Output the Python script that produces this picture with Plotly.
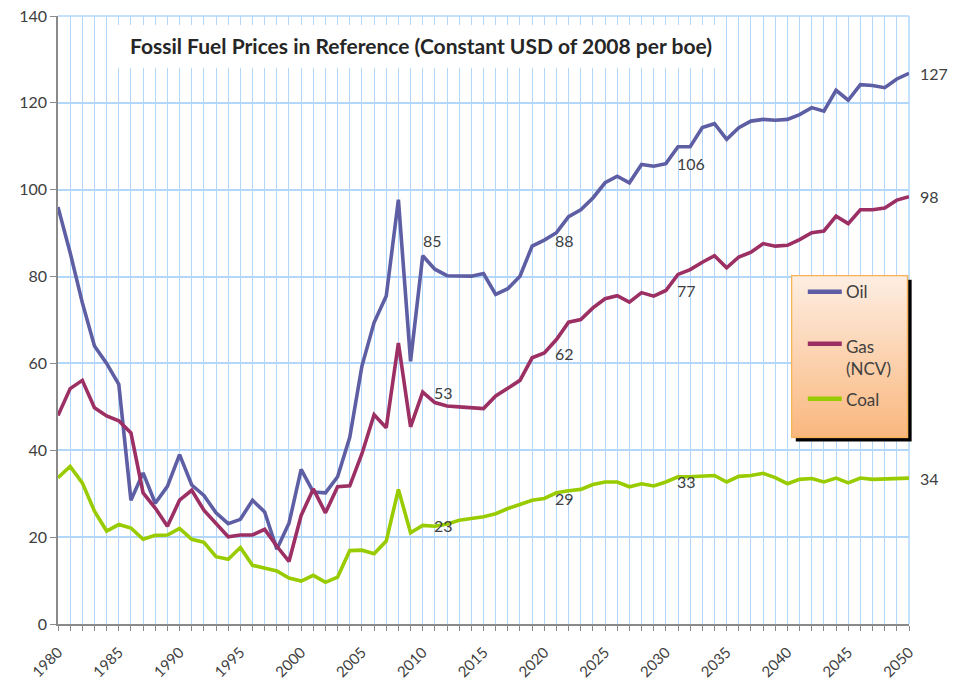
import base64
import plotly.graph_objects as go

years = list(range(1980, 2051))

oil = [96, 85.5, 74, 64, 60, 55.2, 28.5, 34.8, 27.8, 31.7,
       39, 32, 29.6, 25.6, 23.1, 24.1, 28.5, 25.8, 17.2, 23.2,
       35.6, 30.4, 30.2, 33.9, 43, 59.4, 69.4, 75.5, 97.7, 60.5,
       84.8, 81.7, 80.2, 80.1, 80.1, 80.7, 75.9, 77.2, 80.1, 87,
       88.4, 90.1, 93.8, 95.4, 98.1, 101.6, 103.1, 101.6, 105.8, 105.4,
       106, 109.9, 109.9, 114.3, 115.2, 111.6, 114.3, 115.8, 116.2, 116,
       116.2, 117.3, 118.9, 118.1, 122.9, 120.6, 124.2, 124, 123.5, 125.5,
       126.8]

gas = [48, 54.2, 56.1, 49.8, 47.9, 46.8, 44, 30.2, 26.7, 22.5,
       28.5, 30.8, 26.2, 23.1, 20.1, 20.5, 20.5, 21.8, 17.9, 14.4,
       25, 31.1, 25.6, 31.6, 31.8, 39.2, 48.2, 45.2, 64.7, 45.4,
       53.4, 51, 50.2, 50, 49.7, 49.6, 52.5, 54.2, 56.1, 61.3,
       62.4, 65.5, 69.5, 70.1, 72.8, 74.9, 75.6, 74.1, 76.3, 75.5,
       76.8, 80.5, 81.6, 83.3, 84.8, 82, 84.5, 85.6, 87.6, 87,
       87.2, 88.5, 90.1, 90.5, 93.9, 92.2, 95.4, 95.4, 95.8, 97.6,
       98.4]

coal = [33.7, 36.3, 32.5, 26, 21.4, 22.9, 22.1, 19.5, 20.4, 20.5,
        22, 19.5, 18.8, 15.5, 14.9, 17.6, 13.5, 12.9, 12.2, 10.6,
        9.9, 11.2, 9.6, 10.8, 16.9, 17, 16.2, 19.1, 31, 21,
        22.7, 22.5, 23, 23.9, 24.3, 24.7, 25.4, 26.6, 27.5, 28.5,
        28.9, 30.2, 30.7, 31, 32.1, 32.7, 32.7, 31.6, 32.3, 31.8,
        32.7, 33.9, 33.9, 34, 34.2, 32.7, 34, 34.2, 34.7, 33.7,
        32.3, 33.3, 33.5, 32.7, 33.6, 32.5, 33.6, 33.3, 33.4, 33.5,
        33.6]

label_years = [2010, 2020, 2030, 2050]
series_names = ["Oil", "Gas", "Coal"]
legend_texts = ["Oil", "Gas", "(NCV)", "Coal"]
title_text = "Fossil Fuel Prices in Reference (Constant USD of 2008 per boe)"
y_ticks = [0, 20, 40, 60, 80, 100, 120, 140]
x_ticks = list(range(1980, 2051, 5))

OIL_C = "#5E5EA4"
GAS_C = "#9C2F63"
COAL_C = "#99CC00"
GRID_C = "#B3D7FA"
AXIS_C = "#8A8A8A"
TXT_C = "#404040"
FONT = "Lato"

W, H = 956, 688
PL, PR, PT, PB = 58.3, 909.2, 16.0, 624.5
def px(x):
    return (x - PL) / (PR - PL)
def py(y):
    return (PB - y) / (PB - PT)

fig = go.Figure()
for name, vals, col in [("Oil", oil, OIL_C), ("Gas", gas, GAS_C), ("Coal", coal, COAL_C)]:
    fig.add_trace(go.Scatter(x=years, y=vals, mode="lines", name=name,
                             line=dict(color=col, width=3.6), showlegend=False))

annotations = []
for vals in (oil, gas, coal):
    for yr in label_years:
        v = vals[years.index(yr)]
        if vals is oil and yr == 2010:
            xs, ys = -2, 15
        else:
            xs, ys = 9, 0
        annotations.append(dict(x=yr, y=v, text=f"{v:.0f}", showarrow=False,
                                xanchor="left", yanchor="middle", xshift=xs, yshift=ys,
                                font=dict(family=FONT, size=16, color=TXT_C)))

annotations.append(dict(xref="paper", yref="paper", x=px(421), y=py(46), text="<b>" + title_text + "</b>",
                        showarrow=False, xanchor="center", yanchor="middle",
                        font=dict(family=FONT, size=21, color="#262626")))

leg_pos = [("Oil", 292), ("Gas", 347), ("(NCV)", 369), ("Coal", 400)]
for t, yy in leg_pos:
    annotations.append(dict(xref="paper", yref="paper", x=px(844), y=py(yy), text=t,
                            showarrow=False, xanchor="left", yanchor="middle",
                            font=dict(family=FONT, size=17, color=TXT_C)))

shapes = []
shapes.append(dict(type="line", xref="paper", yref="paper", x0=0, x1=1, y0=1, y1=1,
                   line=dict(color=GRID_C, width=1.5), layer="below"))
shapes.append(dict(type="line", xref="paper", yref="paper", x0=1, x1=1, y0=0, y1=1,
                   line=dict(color=GRID_C, width=1.5), layer="below"))
shapes.append(dict(type="rect", xref="paper", yref="paper", x0=px(115), x1=px(722),
                   y0=py(68), y1=py(25), fillcolor="white", line=dict(width=0), layer="above"))
for col, yy in [(OIL_C, 292), (GAS_C, 344), (COAL_C, 399)]:
    shapes.append(dict(type="line", xref="paper", yref="paper", x0=px(808), x1=px(842),
                       y0=py(yy), y1=py(yy), line=dict(color=col, width=4.5), layer="above"))

svg = ('<svg xmlns="http://www.w3.org/2000/svg" width="121" height="167" viewBox="0 0 121 167" preserveAspectRatio="none">'
       '<defs><linearGradient id="g" x1="0" y1="0" x2="0" y2="1">'
       '<stop offset="0" stop-color="#FDEEE2"/><stop offset="1" stop-color="#FAB77E"/>'
       '</linearGradient></defs>'
       '<rect x="5" y="5" width="116" height="162" fill="#000000"/>'
       '<rect x="0.75" y="0.75" width="116" height="162" fill="url(#g)" stroke="#F6B35A" stroke-width="1.5"/>'
       '</svg>')
src = "data:image/svg+xml;base64," + base64.b64encode(svg.encode()).decode()
images = [dict(source=src, xref="paper", yref="paper", x=px(791), y=py(275),
               sizex=121 / (PR - PL), sizey=167 / (PB - PT), xanchor="left", yanchor="top",
               sizing="stretch", layer="above")]

fig.update_layout(
    width=W, height=H,
    margin=dict(l=PL, r=W - PR, t=PT, b=H - PB, pad=0, autoexpand=False),
    paper_bgcolor="white", plot_bgcolor="white",
    font=dict(family=FONT, size=16, color=TXT_C),
    annotations=annotations, shapes=shapes, images=images,
    showlegend=False,
    xaxis=dict(range=[1980, 2050], tickvals=x_ticks, ticktext=[str(v) for v in x_ticks],
               tickangle=-45, showgrid=True, gridcolor=GRID_C, gridwidth=1,
               showline=True, linecolor=AXIS_C, linewidth=1.5, ticks="outside", ticklen=5,
               ticklabelstandoff=7, ticklabeloverflow="allow", automargin=False,
               tickcolor=AXIS_C, zeroline=False, tickfont=dict(family=FONT, size=15, color=TXT_C),
               minor=dict(dtick=1, tick0=1980, showgrid=True, gridcolor=GRID_C, gridwidth=1,
                          ticks="outside", ticklen=5, tickcolor=AXIS_C)),
    yaxis=dict(range=[0, 140], tickvals=y_ticks, showgrid=True, gridcolor=GRID_C, gridwidth=1.5,
               showline=True, linecolor=AXIS_C, linewidth=1.5, ticks="outside", ticklen=6,
               ticklabeloverflow="allow", automargin=False,
               tickcolor=AXIS_C, zeroline=False, tickfont=dict(family=FONT, size=16, color=TXT_C)),
)

fig.write_html("out.html", config={"displayModeBar": False},
               post_script="document.body.style.margin='0';document.body.style.overflow='hidden';")
